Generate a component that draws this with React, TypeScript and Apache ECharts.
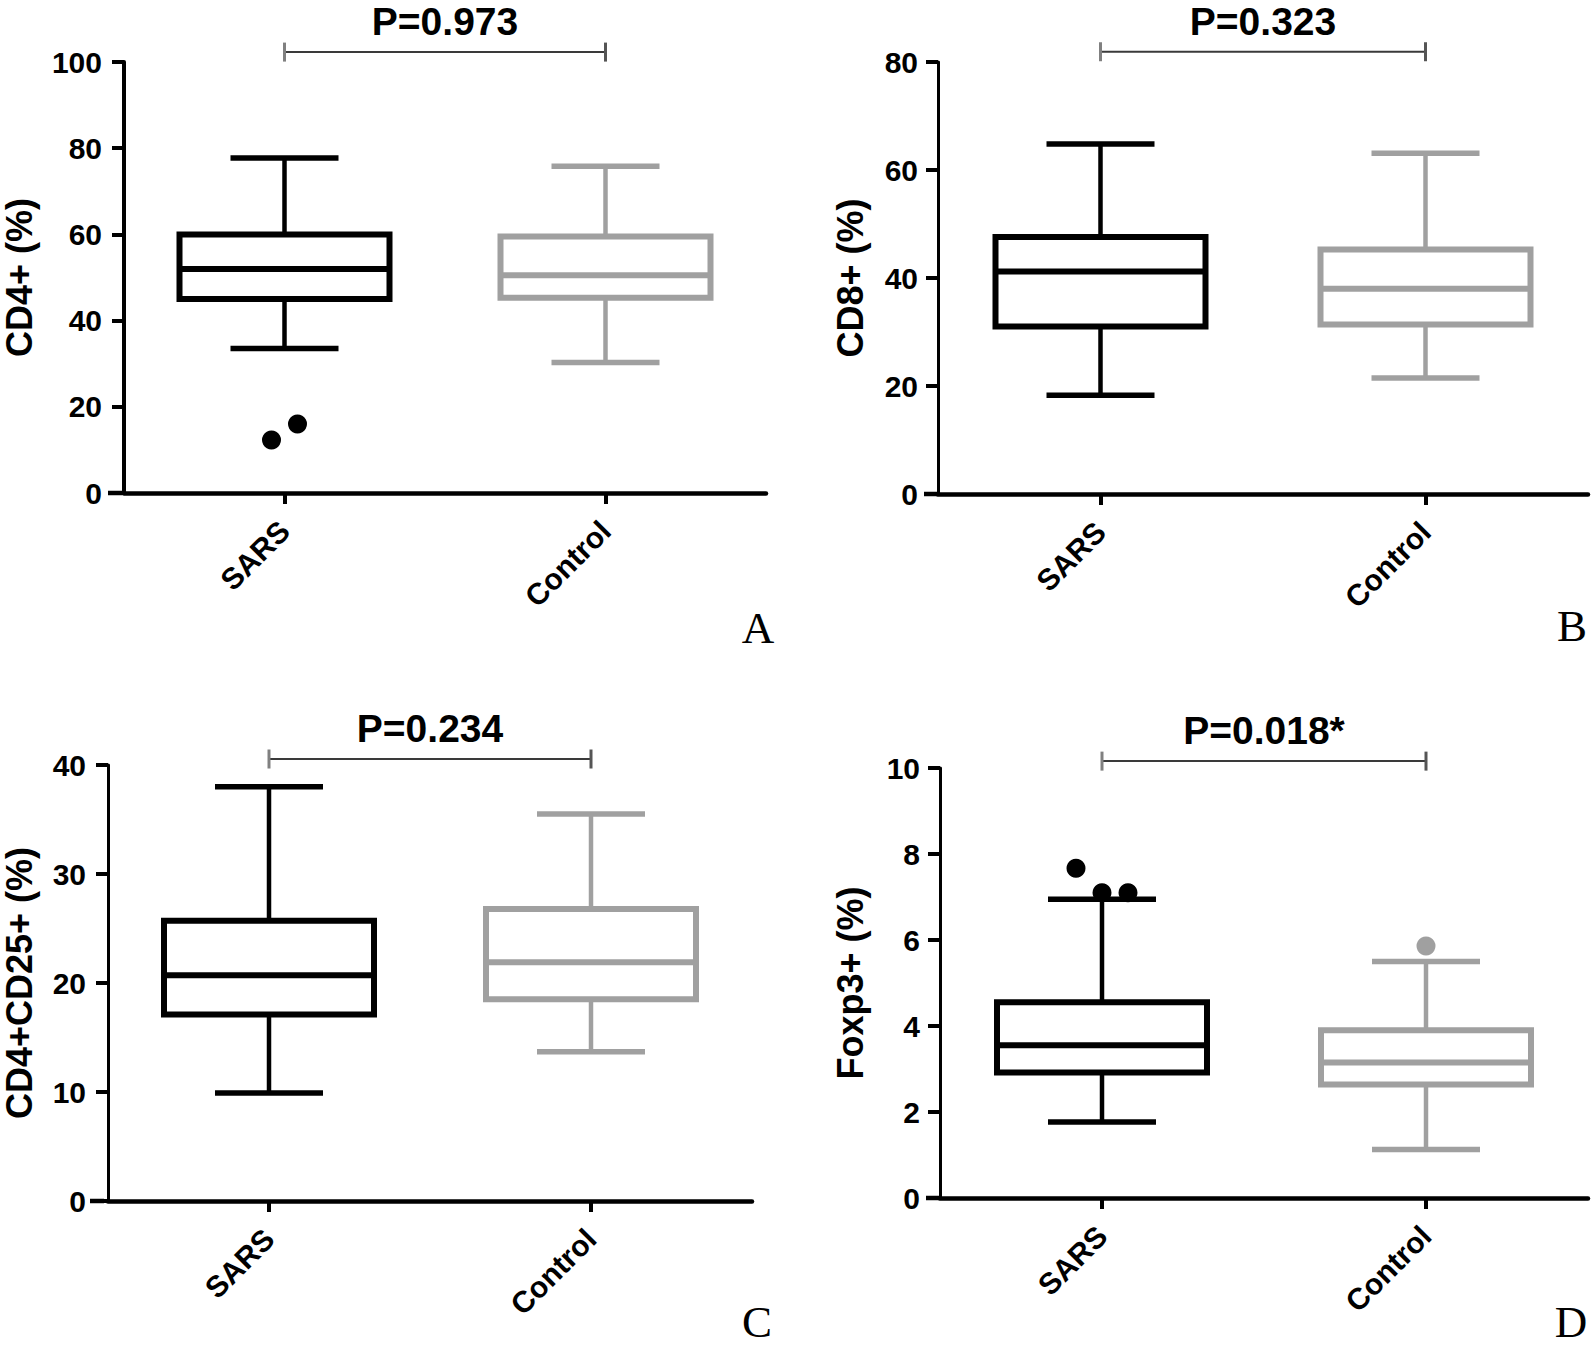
import React, { useEffect, useRef } from "react";
import * as echarts from "echarts";

// ---------- data ----------
const categories = ["SARS", "Control"];
const panelLetters = ["A", "B", "C", "D"];
const yNames = ["CD4+ (%)", "CD8+ (%)", "CD4+CD25+ (%)", "Foxp3+ (%)"];
const pTexts = ["P=0.973", "P=0.323", "P=0.234", "P=0.018*"];
const yMax = [100, 80, 40, 10];
const yInterval = [20, 20, 10, 2];

// [min, Q1, median, Q3, max]
const sarsA = [33.5, 45.0, 52.0, 60.0, 77.7];
const controlA = [30.3, 45.3, 50.5, 59.5, 75.8];
const sarsB = [18.3, 31.0, 41.2, 47.6, 64.8];
const controlB = [21.5, 31.4, 38.0, 45.3, 63.1];
const sarsC = [9.9, 17.1, 20.7, 25.7, 38.0];
const controlC = [13.7, 18.5, 21.9, 26.8, 35.5];
const sarsD = [1.77, 2.92, 3.55, 4.55, 6.95];
const controlD = [1.13, 2.64, 3.15, 3.9, 5.5];

// outliers: [categoryIndex, value]
const outliersA = [[0, 12.3], [0, 16.0]];
const outliersB: number[][] = [];
const outliersC: number[][] = [];
const outliersD = [[0, 7.67], [0, 7.1], [0, 7.1], [1, 5.86]];

// bracket heights (value units, just above the axes)
const bracketY = [102.3, 81.9, 40.55, 10.16];

// ---------- layout / style ----------
const boxSets = [
  [sarsA, controlA],
  [sarsB, controlB],
  [sarsC, controlC],
  [sarsD, controlD],
];
const outlierSets = [outliersA, outliersB, outliersC, outliersD];
const outlierOffsets = [
  [[-13, 0], [13, 0]],
  [],
  [],
  [[-26, 0], [0, 0], [26, 0], [0, 0]],
];
const grids = [
  { left: 122, top: 62, width: 644, height: 431 },
  { left: 938, top: 62, width: 650, height: 432 },
  { left: 104, top: 765, width: 648, height: 436 },
  { left: 940, top: 768, width: 648, height: 430 },
];
const nameGaps = [87, 70, 71, 72];
const labelMargins = [22, 20, 22, 20];
const yAxisWidths = [4, 3, 3, 3];
const letterPos = [
  [758, 628],
  [1572, 626],
  [757, 1322],
  [1571, 1322],
];
const groupColors = ["#000000", "#a0a0a0"];
const FONT = '"Liberation Sans", Arial, Helvetica, sans-serif';

function boxRender(params: any, api: any) {
  const cat = api.value(0);
  const mn = api.value(1);
  const q1 = api.value(2);
  const md = api.value(3);
  const q3 = api.value(4);
  const mx = api.value(5);
  const pMin = api.coord([cat, mn]);
  const pQ1 = api.coord([cat, q1]);
  const pMd = api.coord([cat, md]);
  const pQ3 = api.coord([cat, q3]);
  const pMax = api.coord([cat, mx]);
  const x = pMd[0];
  const color = groupColors[cat];
  const boxHalf = 105;
  const capHalf = 54;
  const lw = 6;
  return {
    type: "group",
    children: [
      { type: "line", shape: { x1: x, y1: pQ3[1], x2: x, y2: pMax[1] }, style: { stroke: color, lineWidth: 4.5 } },
      { type: "line", shape: { x1: x, y1: pQ1[1], x2: x, y2: pMin[1] }, style: { stroke: color, lineWidth: 4.5 } },
      { type: "line", shape: { x1: x - capHalf, y1: pMax[1], x2: x + capHalf, y2: pMax[1] }, style: { stroke: color, lineWidth: 5.5 } },
      { type: "line", shape: { x1: x - capHalf, y1: pMin[1], x2: x + capHalf, y2: pMin[1] }, style: { stroke: color, lineWidth: 5.5 } },
      {
        type: "rect",
        shape: { x: x - boxHalf, y: pQ3[1], width: boxHalf * 2, height: pQ1[1] - pQ3[1] },
        style: { stroke: color, lineWidth: lw, fill: "#ffffff" },
      },
      { type: "line", shape: { x1: x - boxHalf, y1: pMd[1], x2: x + boxHalf, y2: pMd[1] }, style: { stroke: color, lineWidth: lw } },
    ],
  };
}

function makeBracketRender(text: string) {
  return (params: any, api: any) => {
    const y = api.value(2);
    const p0 = api.coord([api.value(0), y]);
    const p1 = api.coord([api.value(1), y]);
    const mid = (p0[0] + p1[0]) / 2;
    return {
      type: "group",
      children: [
        { type: "line", shape: { x1: p0[0], y1: p0[1], x2: p1[0], y2: p1[1] }, style: { stroke: "#3a3a3a", lineWidth: 2 } },
        { type: "line", shape: { x1: p0[0], y1: p0[1] - 9.5, x2: p0[0], y2: p0[1] + 9.5 }, style: { stroke: "#808080", lineWidth: 3 } },
        { type: "line", shape: { x1: p1[0], y1: p1[1] - 9.5, x2: p1[0], y2: p1[1] + 9.5 }, style: { stroke: "#555555", lineWidth: 3 } },
        {
          type: "text",
          x: mid,
          y: p0[1] - 30.5,
          style: {
            text,
            fill: "#000",
            fontSize: 39,
            fontWeight: "bold",
            fontFamily: FONT,
            align: "center",
            verticalAlign: "middle",
          },
        },
      ],
    };
  };
}

export default function App() {
  const ref = useRef<HTMLDivElement>(null);
  useEffect(() => {
    if (!ref.current) return;
    const chart = echarts.init(ref.current, undefined, { renderer: "svg" });

    const xAxis: any[] = [];
    const yAxis: any[] = [];
    const series: any[] = [];

    for (let i = 0; i < 4; i++) {
      xAxis.push({
        type: "category",
        gridIndex: i,
        data: categories,
        axisLine: { show: true, lineStyle: { color: "#000", width: 4.5 } },
        axisTick: { show: true, alignWithLabel: true, length: 11, lineStyle: { color: "#000", width: 4 } },
        axisLabel: {
          rotate: 45,
          margin: 33,
          color: "#000",
          fontSize: 30,
          fontWeight: "bold",
          fontFamily: FONT,
        },
        splitLine: { show: false },
      });
      yAxis.push({
        type: "value",
        gridIndex: i,
        min: 0,
        max: yMax[i],
        interval: yInterval[i],
        name: yNames[i],
        nameLocation: "middle",
        nameRotate: 90,
        nameGap: nameGaps[i],
        nameTextStyle: { color: "#000", fontSize: 36, fontWeight: "bold", fontFamily: FONT },
        axisLine: { show: true, lineStyle: { color: "#000", width: yAxisWidths[i] } },
        axisTick: { show: true, inside: false, length: 12, lineStyle: { color: "#000", width: 4 } },
        axisLabel: {
          margin: labelMargins[i],
          color: "#000",
          fontSize: 30,
          fontWeight: "bold",
          fontFamily: FONT,
        },
        splitLine: { show: false },
      });

      const boxes = boxSets[i];
      series.push({
        type: "custom",
        xAxisIndex: i,
        yAxisIndex: i,
        clip: false,
        renderItem: boxRender,
        encode: { x: 0, y: [1, 2, 3, 4, 5] },
        data: boxes.map((b, k) => [k, ...b]),
        z: 2,
      });
      series.push({
        type: "custom",
        xAxisIndex: i,
        yAxisIndex: i,
        clip: false,
        renderItem: makeBracketRender(pTexts[i]),
        encode: { x: [0, 1], y: 2 },
        data: [[0, 1, bracketY[i]]],
        z: 3,
      });
      const outs = outlierSets[i];
      if (outs.length) {
        series.push({
          type: "scatter",
          xAxisIndex: i,
          yAxisIndex: i,
          symbol: "circle",
          symbolSize: 19,
          clip: false,
          z: 4,
          data: outs.map((o, k) => ({
            value: [o[0], o[1]],
            symbolOffset: outlierOffsets[i][k],
            itemStyle: { color: groupColors[o[0]], opacity: 1 },
          })),
        });
      }
    }

    const letters = panelLetters.map((t, i) => ({
      type: "text",
      x: letterPos[i][0],
      y: letterPos[i][1],
      style: {
        text: t,
        fill: "#000",
        fontSize: 45,
        fontFamily: '"Liberation Serif", "Times New Roman", serif',
        align: "center",
        verticalAlign: "middle",
      },
    }));
    // x-axis line continues left to the end of the y ticks
    const axisStubs = grids.map((g) => ({
      type: "line",
      shape: { x1: g.left - 14, y1: g.top + g.height, x2: g.left, y2: g.top + g.height },
      style: { stroke: "#000", lineWidth: 4.5 },
    }));

    chart.setOption({
      animation: false,
      backgroundColor: "#ffffff",
      grid: grids.map((g) => ({ ...g, containLabel: false })),
      xAxis,
      yAxis,
      series,
      graphic: [...letters, ...axisStubs],
    });
    return () => chart.dispose();
  }, []);

  return (
    <div
      ref={ref}
      style={{ position: "absolute", left: 0, top: 0, width: 1594, height: 1346, background: "#fff" }}
    />
  );
}
